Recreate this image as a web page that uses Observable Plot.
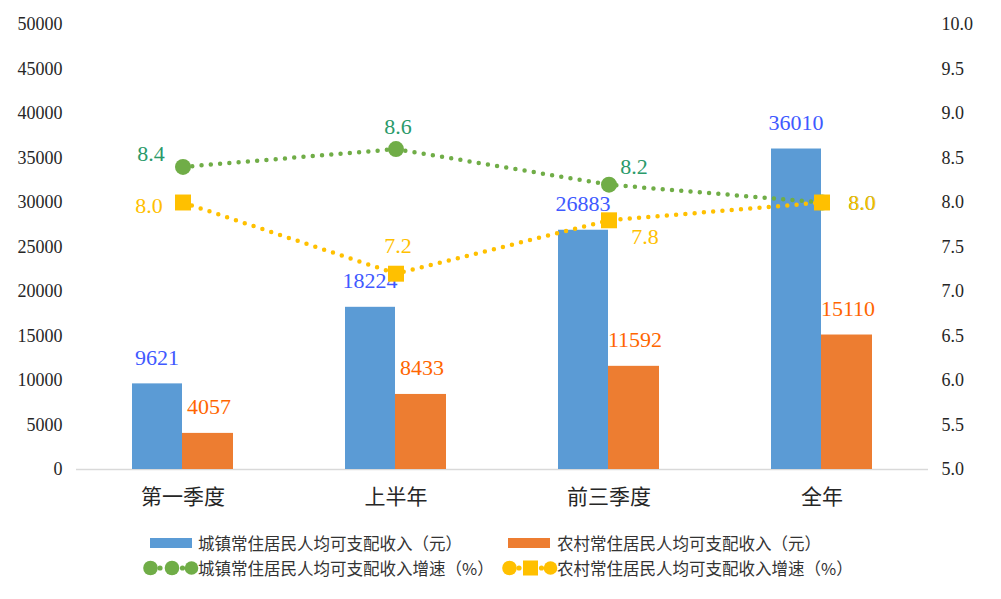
<!DOCTYPE html>
<html>
<head>
<meta charset="utf-8">
<script src="https://cdn.jsdelivr.net/npm/d3@7"></script>
<script src="https://cdn.jsdelivr.net/npm/@observablehq/plot@0.6"></script>
<style>
  html, body { margin: 0; padding: 0; background: #fff; }
  body { width: 1001px; height: 599px; overflow: hidden; position: relative; }
  #chart { position: absolute; left: 0; top: 0; }
  #legend { position: absolute; left: 0; top: 525px; }
</style>
</head>
<body>
<div id="chart"></div>
<div id="legend"></div>
<script>
// ---------------- data ----------------
const categories = ["第一季度", "上半年", "前三季度", "全年"];
const urbanIncome = [9621, 18224, 26883, 36010];
const ruralIncome = [4057, 8433, 11592, 15110];
const urbanGrowth = [8.4, 8.6, 8.2, 8.0];
const ruralGrowth = [8.0, 7.2, 7.8, 8.0];
const leftTicks = [0, 5000, 10000, 15000, 20000, 25000, 30000, 35000, 40000, 45000, 50000];
const rightTicks = [5.0, 5.5, 6.0, 6.5, 7.0, 7.5, 8.0, 8.5, 9.0, 9.5, 10.0];
const seriesNames = [
  "城镇常住居民人均可支配收入（元）",
  "农村常住居民人均可支配收入（元）",
  "城镇常住居民人均可支配收入增速（%）",
  "农村常住居民人均可支配收入增速（%）"
];

// ---------------- styles ----------------
const BLUE = "#5B9BD5", ORANGE = "#ED7D31", GREEN = "#70AD47", YELLOW = "#FFC000";
const BLUE_LBL = "#4059FF", ORANGE_LBL = "#FF6600", GREEN_LBL = "#2A9A6A", YELLOW_LBL = "#FFC000";
const NUM_FONT = "'Liberation Serif', 'Noto Sans CJK SC', serif";
const CJK_FONT = "'Noto Sans CJK SC', sans-serif";

const lMin = leftTicks[0], lMax = leftTicks[leftTicks.length - 1];
const rMin = rightTicks[0], rMax = rightTicks[rightTicks.length - 1];
const toLeft = g => (g - rMin) / (rMax - rMin) * (lMax - lMin) + lMin;
const fromLeft = v => (v - lMin) / (lMax - lMin) * (rMax - rMin) + rMin;

const rows = categories.map((c, i) => ({
  category: c,
  urban: urbanIncome[i],
  rural: ruralIncome[i],
  urbanG: urbanGrowth[i],
  ruralG: ruralGrowth[i]
}));

// label placement (offsets in px relative to each point)
const urbanGOff = [[-34, -13], [0, -22], [23, -18], [38, 0]];
const ruralGOff = [[-36, 3], [0, -28], [34, 17], [38, 0]];

const growthLabels = (key, offs, color) => rows.map((r, i) =>
  Plot.text([r], {
    x: "category",
    y: d => toLeft(d[key]),
    text: d => d[key].toFixed(1),
    dx: offs[i][0] + 2, dy: offs[i][1],
    fill: color, fontSize: 22, fontFamily: NUM_FONT,
    ariaLabel: "growth-label"
  })
);

const chart = Plot.plot({
  width: 1001,
  height: 520,
  marginLeft: 76,
  marginRight: 73,
  marginTop: 24,
  marginBottom: 51,
  style: { background: "white", fontFamily: NUM_FONT, color: "#262626" },
  x: { type: "band", domain: categories, padding: 0, axis: null },
  y: { domain: [lMin, lMax], axis: null },
  marks: [
    Plot.ruleY([0], { stroke: "#D9D9D9", strokeWidth: 1.5 }),
    Plot.axisY({
      anchor: "left", ticks: leftTicks, tickSize: 0, tickPadding: 14,
      tickFormat: d => String(d), label: null, fontSize: 18, ariaLabel: "y-left"
    }),
    Plot.axisY({
      anchor: "right", ticks: rightTicks.map(toLeft), tickSize: 0, tickPadding: 13,
      tickFormat: d => fromLeft(d).toFixed(1), label: null, fontSize: 18, ariaLabel: "y-right"
    }),
    Plot.axisX({
      tickSize: 0, tickPadding: 20, label: null, fontSize: 21,
      fontFamily: CJK_FONT, ariaLabel: "x-axis"
    }),
    Plot.barY(rows, { x: "category", y: "urban", fill: BLUE, insetLeft: 56, insetRight: 107 }),
    Plot.barY(rows, { x: "category", y: "rural", fill: ORANGE, insetLeft: 106, insetRight: 56 }),
    Plot.text(rows, {
      x: "category", y: "urban", text: d => String(d.urban),
      dx: -26, dy: -26, fill: BLUE_LBL, fontSize: 22, fontFamily: NUM_FONT
    }),
    Plot.text(rows, {
      x: "category", y: "rural", text: d => String(d.rural),
      dx: 26, dy: -26, fill: ORANGE_LBL, fontSize: 22, fontFamily: NUM_FONT
    }),
    Plot.line(rows, {
      x: "category", y: d => toLeft(d.urbanG), stroke: GREEN, strokeWidth: 4.5,
      strokeDasharray: "0 9.3", strokeLinecap: "round"
    }),
    Plot.dot(rows, { x: "category", y: d => toLeft(d.urbanG), r: 8, fill: GREEN, stroke: "none" }),
    ...growthLabels("urbanG", urbanGOff, GREEN_LBL),
    Plot.line(rows, {
      x: "category", y: d => toLeft(d.ruralG), stroke: YELLOW, strokeWidth: 4.5,
      strokeDasharray: "0 9.3", strokeLinecap: "round"
    }),
    Plot.dot(rows, { x: "category", y: d => toLeft(d.ruralG), r: 9, symbol: "square", fill: YELLOW, stroke: "none" }),
    ...growthLabels("ruralG", ruralGOff, YELLOW_LBL)
  ]
});
document.getElementById("chart").appendChild(chart);

// widen decimal labels like the original font
d3.select(chart).selectAll("g[aria-label='growth-label'] text").attr("letter-spacing", "5px");
d3.select(chart).selectAll("g[aria-label='y-right'] text").attr("letter-spacing", "2.5px");

// ---------------- legend ----------------
const lg = d3.select("#legend").append("svg")
  .attr("width", 1001).attr("height", 70)
  .style("font-family", CJK_FONT);
const oy = 525;
const row1 = 543 - oy, row2 = 568 - oy;

// bar swatches
lg.append("rect").attr("x", 150).attr("y", row1 - 5).attr("width", 42).attr("height", 10).attr("fill", BLUE);
lg.append("rect").attr("x", 508).attr("y", row1 - 5).attr("width", 42).attr("height", 10).attr("fill", ORANGE);

// line swatches
function lineSwatch(x0, color, square) {
  const g = lg.append("g").attr("fill", color);
  g.append("circle").attr("cx", x0 + 7.5).attr("cy", row2).attr("r", 7.3);
  g.append("circle").attr("cx", x0 + 17).attr("cy", row2).attr("r", 2.6);
  if (square) {
    g.append("rect").attr("x", x0 + 21).attr("y", row2 - 7.5).attr("width", 15).attr("height", 15);
  } else {
    g.append("circle").attr("cx", x0 + 29).attr("cy", row2).attr("r", 7.3);
  }
  g.append("circle").attr("cx", x0 + 39.5).attr("cy", row2).attr("r", 2.6);
  g.append("circle").attr("cx", x0 + 48.5).attr("cy", row2).attr("r", 6.8);
}
lineSwatch(143, GREEN, false);
lineSwatch(502, YELLOW, true);

const texts = [
  [198, row1, seriesNames[0]],
  [557, row1, seriesNames[1]],
  [198, row2, seriesNames[2]],
  [557, row2, seriesNames[3]]
];
lg.selectAll("text.lt").data(texts).join("text")
  .attr("class", "lt")
  .attr("x", d => d[0]).attr("y", d => d[1])
  .attr("dominant-baseline", "central")
  .attr("font-size", 16.5)
  .attr("fill", "#333")
  .text(d => d[2]);
</script>
</body>
</html>
